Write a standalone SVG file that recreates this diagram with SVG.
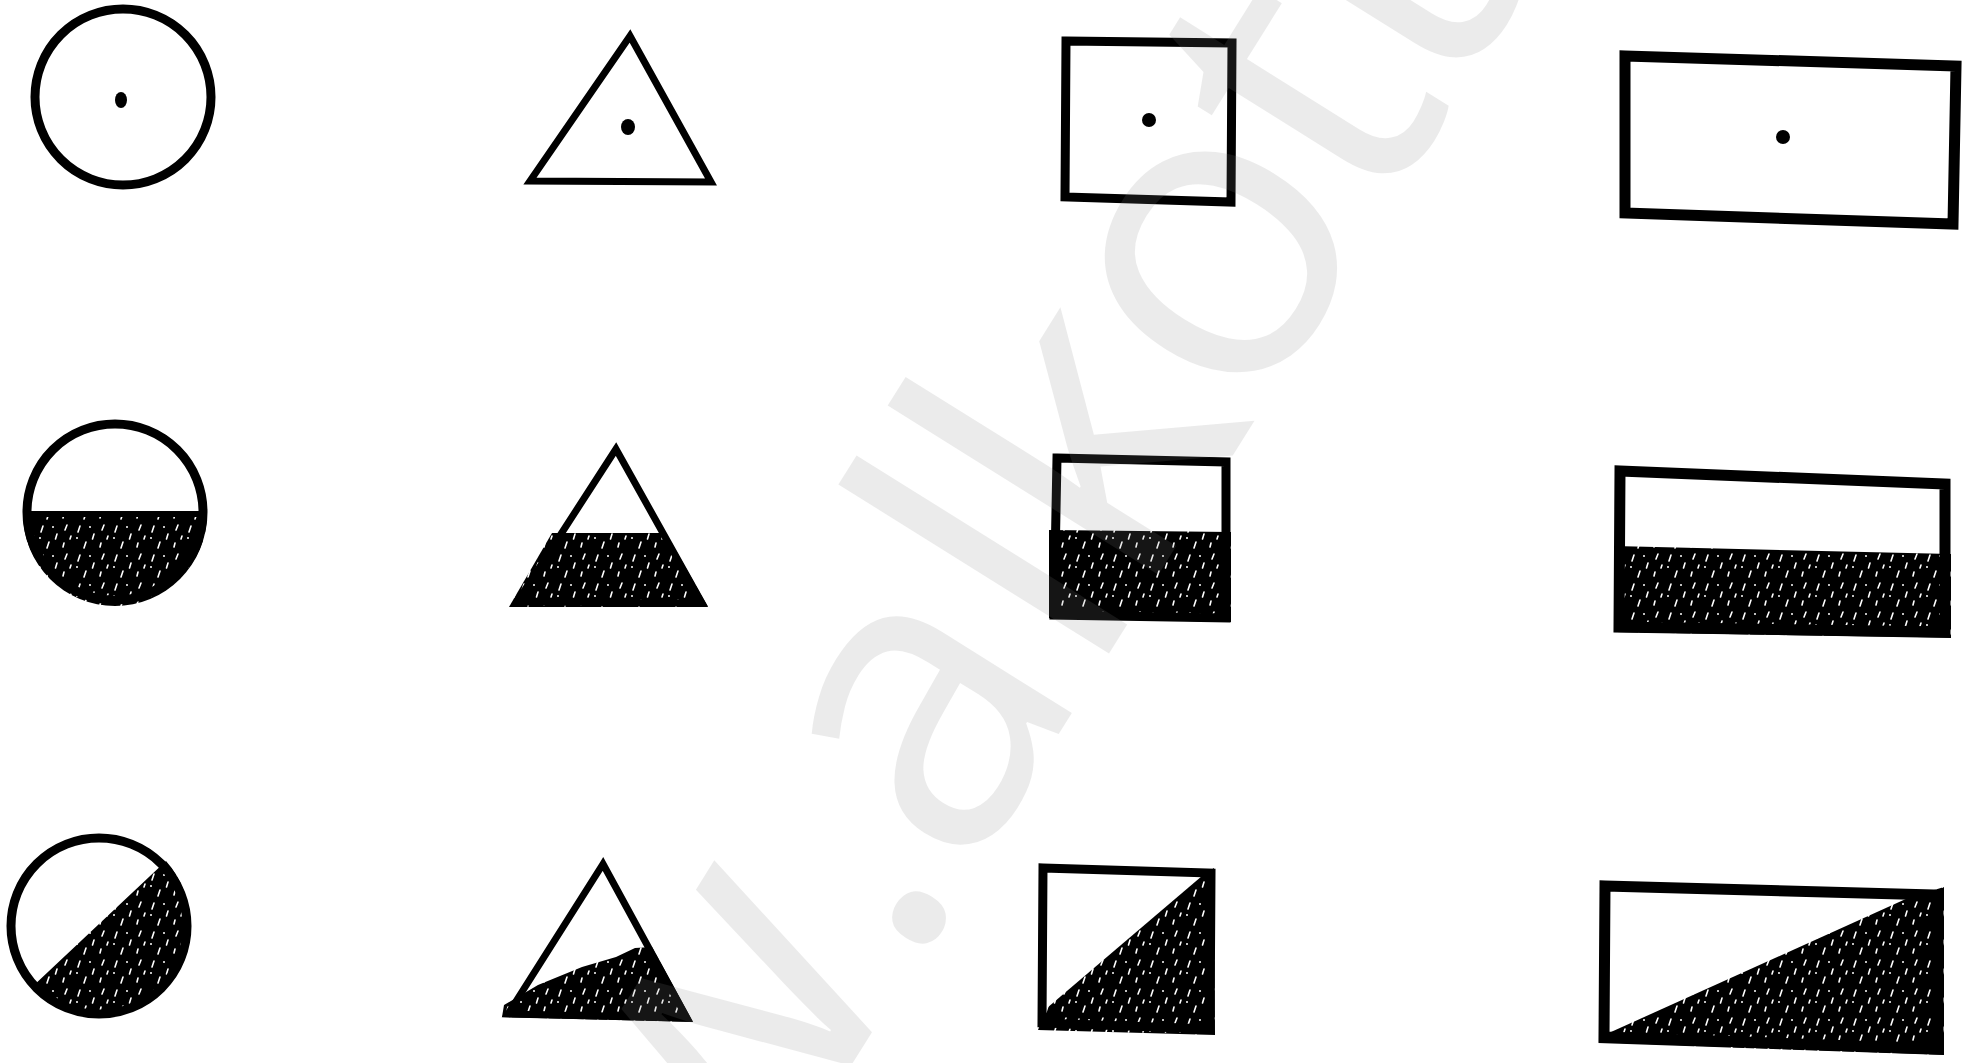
<svg xmlns="http://www.w3.org/2000/svg" width="1967" height="1063" viewBox="0 0 1967 1063">
<defs>
<pattern id="hatch" patternUnits="userSpaceOnUse" width="37" height="29">
<rect width="37" height="29" fill="#000"/>
<path d="M6 4 l-2 6 M20 12 l-1.5 5 M30 3 l-2 5 M12 20 l-2 6 M27 21 l-1 4 M34 14 l-1 3" stroke="#fff" stroke-width="1.6" stroke-linecap="round" fill="none"/>
<circle cx="16" cy="5" r="1" fill="#fff"/>
<circle cx="3" cy="16" r="1" fill="#fff"/>
</pattern>
<style>
.o{fill:none;stroke:#000;stroke-width:9;stroke-linejoin:miter}
.t{fill:none;stroke:#000;stroke-width:7;stroke-linejoin:miter}
.h{fill:url(#hatch);stroke:none}
.d{fill:#000}
.ln{stroke:#000;stroke-width:6}
.wm{font-family:"Open Sans","DejaVu Sans",sans-serif;font-size:420px;fill:#808080;fill-opacity:0.16}
</style>
</defs>
<rect width="1967" height="1063" fill="#fff"/>

<g id="circle-dot">
<circle class="o" cx="123" cy="97" r="88"/>
<ellipse class="d" cx="121" cy="100" rx="6" ry="8"/>
</g>
<g id="triangle-dot">
<polygon class="t" points="630,36 530,181 711,182"/>
<ellipse class="d" cx="628" cy="127" rx="7" ry="8"/>
</g>
<g id="square-dot">
<polygon class="o" points="1066,41 1232,43 1231,202 1065,197"/>
<ellipse class="d" cx="1149" cy="120" rx="7" ry="7"/>
</g>
<g id="rect-dot">
<polygon class="o" style="stroke-width:11" points="1625,56 1956,66 1953,224 1625,213"/>
<ellipse class="d" cx="1783" cy="137" rx="7" ry="7"/>
</g>

<g id="circle-half">
<path class="h" d="M23,514 A92,92 0 0 0 207,514 Z"/>
<circle class="o" cx="115" cy="512" r="88"/>
<line class="ln" x1="24" y1="514" x2="206" y2="514"/>
</g>
<g id="triangle-half">
<polygon class="h" points="552,533 666,533 708,607 509,607"/>
<polygon class="t" points="616,449 517,602 702,603"/>
</g>
<g id="square-half">
<polygon class="h" points="1049,530 1231,532 1231,622 1049,618"/>
<polygon class="o" points="1057,458 1226,462 1226,618 1054,615"/>
</g>
<g id="rect-half">
<polygon class="h" points="1614,546 1951,554 1951,638 1614,632"/>
<polygon class="o" style="stroke-width:11" points="1620,471 1945,484 1945,632 1619,627"/>
</g>

<g id="circle-diag">
<path class="h" d="M32,987 A92,92 0 0 0 166,861 Z"/>
<circle class="o" cx="99" cy="926" r="88"/>
</g>
<g id="triangle-diag">
<polygon class="h" points="502,1017 693,1022 652,947 635,948 616,957 582,967 538,985 504,1005"/>
<polygon class="t" points="603,864 508,1014 687,1018"/>
</g>
<g id="square-diag">
<polygon class="h" points="1214,868 1215,1035 1038,1030 1047,1008 1202,876"/>
<polygon class="o" points="1043,868 1211,873 1210,1029 1042,1023"/>
</g>
<g id="rect-diag">
<polygon class="h" points="1944,887 1944,1055 1598,1043 1611,1032 1908,898"/>
<polygon class="o" style="stroke-width:11" points="1605,886 1938,895 1938,1049 1604,1037"/>
</g>

<text class="wm" transform="translate(1090,684) rotate(-58)"><tspan x="0" text-anchor="end">w.a</tspan><tspan x="0" text-anchor="start" letter-spacing="-13">lkott</tspan></text>
</svg>
